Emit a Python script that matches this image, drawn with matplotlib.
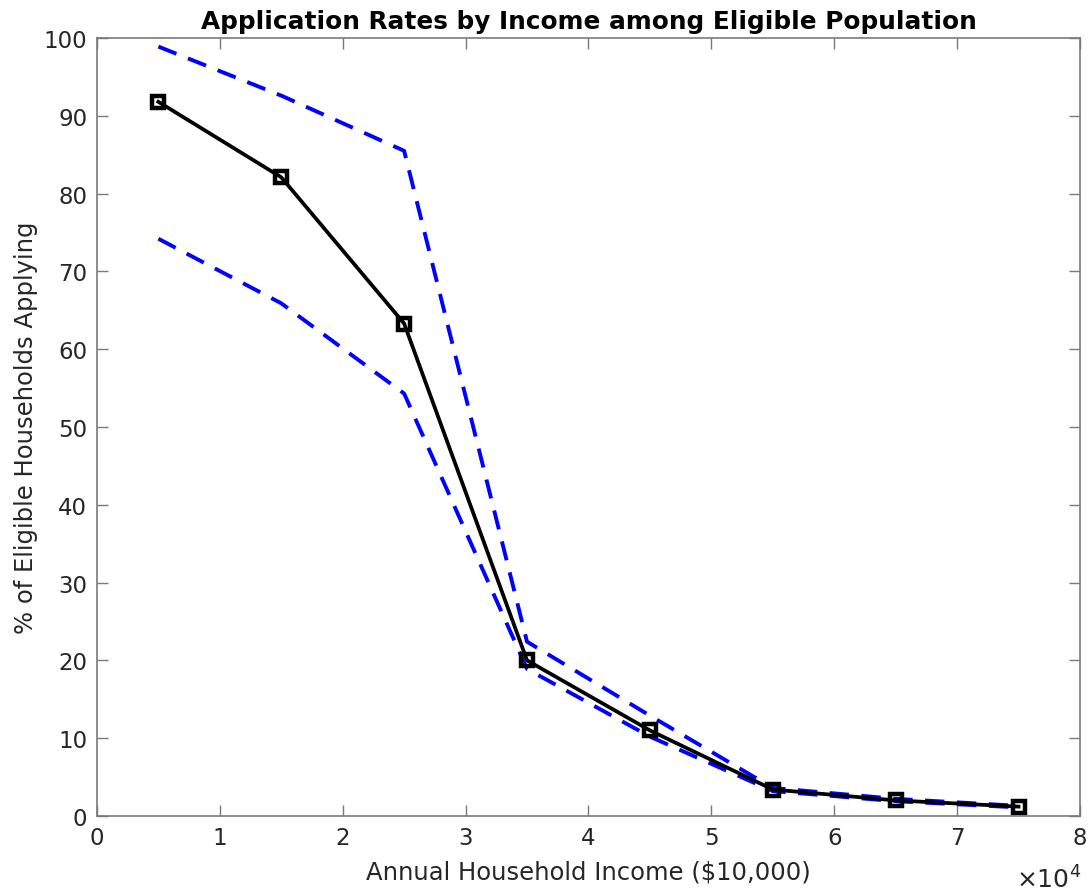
import numpy as np
import matplotlib.pyplot as plt

# Einkommen (USD) und Antragsquoten (%)
income = [5000, 15000, 25000, 35000, 45000, 55000, 65000, 75000]
rate = [91.8, 82.1, 63.3, 20.0, 11.0, 3.4, 2.0, 1.2]
rate_upper = [98.9, 92.6, 85.5, 22.4, 12.9, 3.6, 2.2, 1.3]
rate_lower = [74.2, 65.9, 54.3, 18.9, 10.2, 3.2, 1.9, 1.1]

x_ticks = [0, 10000, 20000, 30000, 40000, 50000, 60000, 70000, 80000]
x_labels = ['0', '1', '2', '3', '4', '5', '6', '7', '8']
y_ticks = list(range(0, 101, 10))

txt = '#262626'
edge = '#7a7a7a'

fig = plt.figure(figsize=(10.89, 8.95), dpi=100)
ax = fig.add_axes([0.089, 0.0872, 0.9027, 0.8692])

ax.plot(income, rate_upper, '--', color='#0000ff', lw=2.8, dashes=(5, 3.2))
ax.plot(income, rate_lower, '--', color='#0000ff', lw=2.8, dashes=(5, 3.2))
ax.plot(income, rate, '-', color='black', lw=2.7, marker='s', markersize=8.5,
        markerfacecolor='none', markeredgewidth=3.2, markeredgecolor='black')

ax.set_xlim(0, 80000)
ax.set_ylim(0, 100)
ax.set_xticks(x_ticks)
ax.set_xticklabels(x_labels)
ax.set_yticks(y_ticks)

ax.tick_params(direction='in', length=8, width=1, colors=edge, labelcolor=txt,
               labelsize=16.5, top=True, right=True, pad=7)
for s in ax.spines.values():
    s.set_color(edge)
    s.set_linewidth(1.2)

ax.set_xlabel('Annual Household Income ($10,000)', fontsize=17.5, color=txt, labelpad=8)
ax.set_ylabel('% of Eligible Households Applying', fontsize=17.5, color=txt, labelpad=4)
ax.set_title('Application Rates by Income among Eligible Population',
             fontsize=17.8, fontweight='bold', color='black', pad=7)

fig.text(0.993, 0.002, r'$\times 10^4$', ha='right', va='bottom',
         fontsize=18, color=txt)

fig.savefig('out.png', dpi=100)
